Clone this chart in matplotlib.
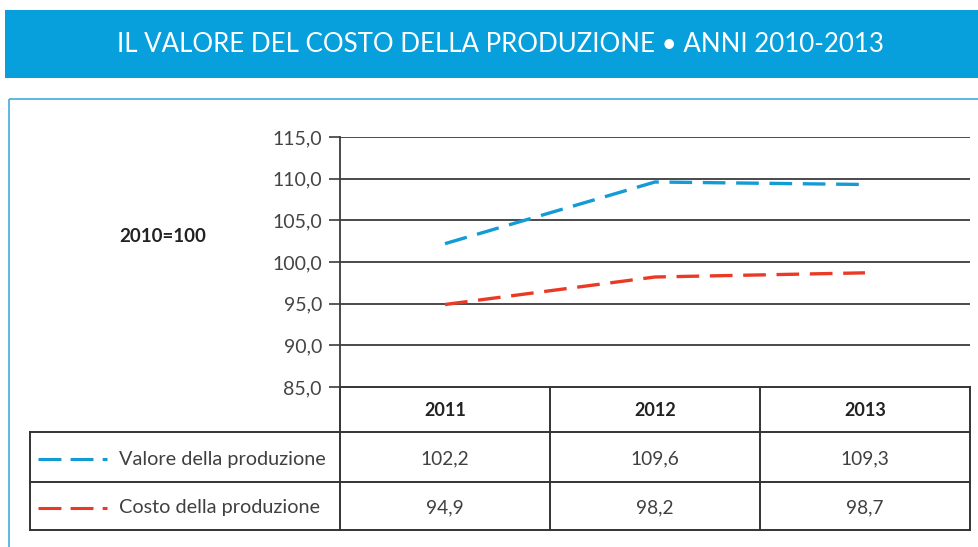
import matplotlib
matplotlib.use("Agg")
import matplotlib.pyplot as plt
from matplotlib.lines import Line2D
from matplotlib.patches import Rectangle

# ---- data ----
years = ["2011", "2012", "2013"]
series_names = ["Valore della produzione", "Costo della produzione"]
valore = [102.2, 109.6, 109.3]
costo = [94.9, 98.2, 98.7]
yticks = [85.0, 90.0, 95.0, 100.0, 105.0, 110.0, 115.0]
title = "IL VALORE DEL COSTO DELLA PRODUZIONE • ANNI 2010-2013"
base_label = "2010=100"

BLUE = "#139BD8"
RED = "#EA3A26"
BANNER = "#079FDC"
GRID = "#3c3c3c"
TXT = "#404040"
FONT = ["Lato", "DejaVu Sans"]

W, H = 979, 547
fig = plt.figure(figsize=(W / 100, H / 100), dpi=100)
plt.rcParams["font.family"] = FONT


def fmt(v):
    return f"{v:.1f}".replace(".", ",")


# overlay axes in pixel coordinates (for banner, panel, table grid)
ov = fig.add_axes([0, 0, 1, 1])
ov.set_xlim(0, W)
ov.set_ylim(H, 0)
ov.axis("off")

# banner
ov.add_patch(Rectangle((5, 10), W, 68, facecolor=BANNER, edgecolor="none"))
ov.text(501, 45, title, color="white", fontsize=18.6, ha="center", va="center",
        family=FONT)
# panel
ov.add_patch(Rectangle((9, 99), W + 20, H, facecolor="none", edgecolor="#4FB3E0", lw=1.3))

# main chart axes
ax_l, ax_r, ax_t, ax_b = 340, 970, 137, 387
ax = fig.add_axes([ax_l / W, 1 - ax_b / H, (ax_r - ax_l) / W, (ax_b - ax_t) / H])
ax.set_xlim(-0.5, len(years) - 0.5)
ax.set_ylim(yticks[0], yticks[-1])
ax.set_yticks(yticks)
ax.set_yticklabels([fmt(v) for v in yticks])
ax.set_xticks([])
for s in ["top", "right", "bottom"]:
    ax.spines[s].set_visible(False)
ax.spines["left"].set_color(GRID)
ax.spines["left"].set_linewidth(1.3)
ax.tick_params(axis="y", length=8, width=1.2, color=GRID, pad=5,
               labelsize=14, labelcolor="#444444")
ax.yaxis.grid(True, color=GRID, lw=1.3)
ax.set_axisbelow(True)
ax.patch.set_alpha(0)

xs = list(range(len(years)))
ax.plot(xs, valore, color=BLUE, lw=2.4, dashes=(6.8, 3.2))
ax.plot(xs, costo, color=RED, lw=2.4, dashes=(6.8, 3.2))

ov.text(163, 237, base_label, fontsize=13.5, fontweight="bold", color="#222222",
        ha="center", va="center")

# table (grid lines in pixel coordinates)
tcol = [30, 340, 550, 760, 970]
trow = [387, 432, 482, 530]
lc = "#333333"
lw = 1.4
ov.add_line(Line2D([tcol[1], tcol[-1]], [trow[0], trow[0]], color=lc, lw=lw))
for y in trow[1:]:
    ov.add_line(Line2D([tcol[0], tcol[-1]], [y, y], color=lc, lw=lw))
ov.add_line(Line2D([tcol[0], tcol[0]], [trow[1], trow[-1]], color=lc, lw=lw))
for x in tcol[1:]:
    ov.add_line(Line2D([x, x], [trow[0], trow[-1]], color=lc, lw=lw))

for j, yr in enumerate(years):
    cx = (tcol[j + 1] + tcol[j + 2]) / 2
    ov.text(cx, (trow[0] + trow[1]) / 2 + 1, yr, fontsize=13, fontweight="bold",
            color="#222222", ha="center", va="center")

rows = [(series_names[0], valore, BLUE), (series_names[1], costo, RED)]
for i, (name, vals, col) in enumerate(rows):
    cy = (trow[i + 1] + trow[i + 2]) / 2 + 2
    ov.add_line(Line2D([38, 107], [cy, cy], color=col, lw=2.2, dashes=(7.5, 3)))
    ov.text(119, cy, name, fontsize=14.3, color=TXT, ha="left", va="center")
    for j, v in enumerate(vals):
        cx = (tcol[j + 1] + tcol[j + 2]) / 2
        ov.text(cx, cy, fmt(v), fontsize=13.8, color=TXT,
                ha="center", va="center")

fig.savefig("out.png", dpi=100)
